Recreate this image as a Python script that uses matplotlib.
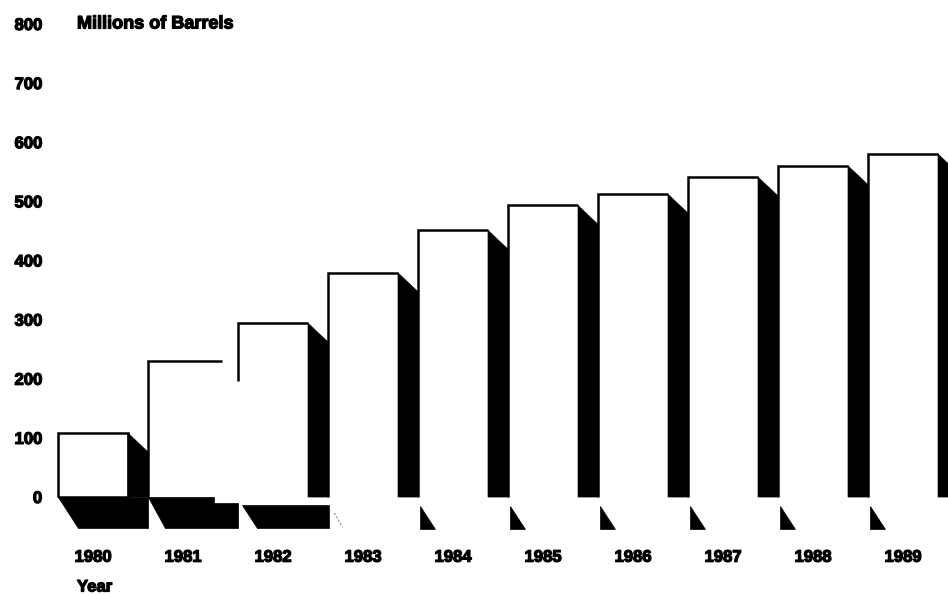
import matplotlib
matplotlib.use("Agg")
import matplotlib.pyplot as plt
import matplotlib.patheffects as pe
from matplotlib.patches import Polygon

# Strategic reserve inventory, end of year
years = ["1980", "1981", "1982", "1983", "1984", "1985", "1986", "1987", "1988", "1989"]
inventory = [108, 230, 294, 379, 451, 493, 512, 541, 560, 580]
y_ticks = [0, 100, 200, 300, 400, 500, 600, 700, 800]

plt.rcParams["font.family"] = ["Liberation Sans", "DejaVu Sans"]
plt.rcParams["font.weight"] = "bold"

FS = 12
heavy = [pe.withStroke(linewidth=0.9, foreground="black")]

fig = plt.figure(figsize=(9.48, 5.95), dpi=100)
ax = fig.add_axes([58 / 948, 55 / 595, 890 / 948, 540 / 595])
ax.set_xlim(0, 890 / 90)
ax.set_ylim(-72.7, 840.5)

W = 0.778     # front face width (slot = 1)
D = 0.222     # side depth, horizontal
DY = 32       # side slant, vertical drop
LW = 1.8
BOT = -52.5   # lowest edge of the floor faces

def black(points, **kw):
    ax.add_patch(Polygon(points, closed=True, facecolor="black", edgecolor="black",
                         linewidth=0.5, clip_on=False, **kw))

def line(xs, ys, **kw):
    ax.plot(xs, ys, color="black", linewidth=LW, solid_capstyle="butt",
            solid_joinstyle="miter", clip_on=False, **kw)

for i, v in enumerate(inventory):
    x0, x1 = i, i + W
    if i == 0:
        # full front outline, side and floor
        line([x0, x0, x1, x1, x0], [0, v, v, 0, 0])
        black([(x1, v), (x1 + D, v - DY), (x1 + D, 0), (x1, 0)])
        black([(x0, 0), (x0 + 1, 0), (x0 + 1, BOT), (x0 + 0.222, BOT)])
    elif i == 1:
        line([x0, x0, x1 + 0.04], [0, v, v])
        black([(x0, 0), (x1 - 0.04, 0), (x1 - 0.04, -10), (x0 + 1, -10),
               (x0 + 1, BOT), (x0 + 0.19, BOT)])
    elif i == 2:
        line([x0, x0, x1], [v - 98, v, v])
        black([(x1, v), (x1 + D, v - DY), (x1 + D, 0), (x1, 0)])
        black([(x0 + 0.044, -13.5), (x1 + D + 0.01, -13.5), (x1 + D + 0.01, BOT),
               (x0 + 0.211, BOT)])
    else:
        line([x0, x0, x1], [0, v, v])
        black([(x1, v), (x1 + D, v - DY), (x1 + D, 0), (x1, 0)])
        if i == 3:
            ax.plot([x0 + 0.07, x0 + 0.16], [-27, -51], color="0.55", linewidth=0.8,
                    linestyle=(0, (2, 1.5)), clip_on=False)
        else:
            black([(x0 + 0.02, -15), (x0 + 0.02, -54), (x0 + 0.19, -54)])

# axes styling
for s in ax.spines.values():
    s.set_visible(False)
ax.set_yticks(y_ticks)
ax.set_yticklabels([str(t) for t in y_ticks], fontsize=FS, fontweight="bold")
ax.tick_params(axis="y", length=0, pad=11.5)
ax.set_xticks([i + W / 2 for i in range(len(years))])
ax.set_xticklabels(years, fontsize=FS, fontweight="bold")
ax.tick_params(axis="x", length=0, pad=7)
for lab in ax.get_xticklabels() + ax.get_yticklabels():
    lab.set_path_effects(heavy)

ax.text(0.211, 800, "Millions of Barrels", ha="left", va="center",
        fontsize=13, fontweight="bold", path_effects=heavy)
fig.text(77 / 948, 1 - 587 / 595, "Year", ha="left", va="center",
         fontsize=FS, fontweight="bold", path_effects=heavy)

fig.savefig("out.png", dpi=100, facecolor="white")
